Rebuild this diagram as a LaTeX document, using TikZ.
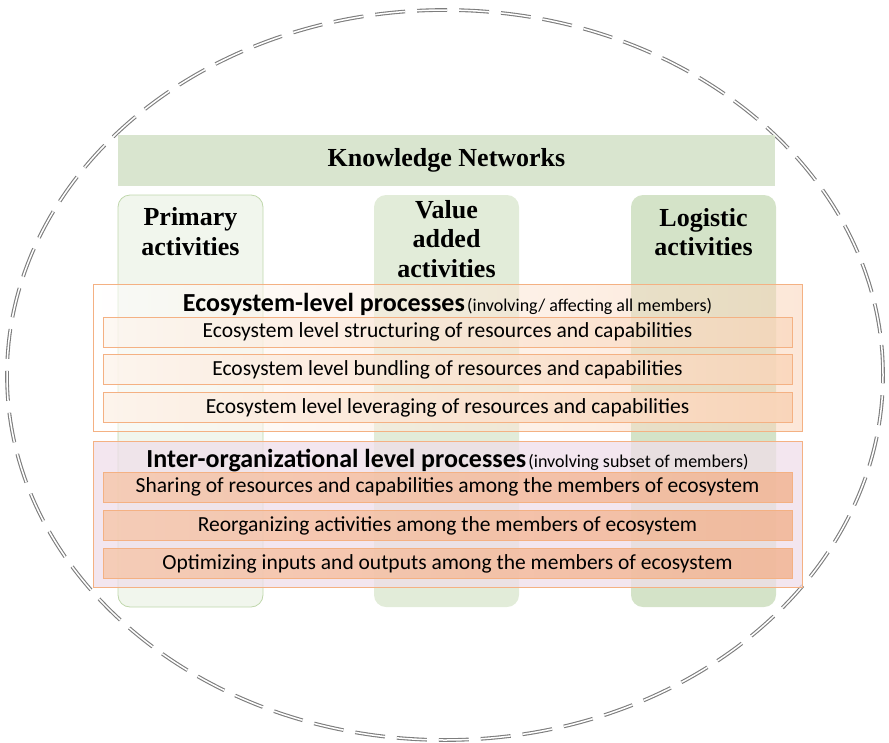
\documentclass[tikz,border=0pt]{standalone}
\usepackage{fontspec}
\setmainfont{Liberation Serif}
\newfontfamily\calibri{Carlito}
\usepackage{tikz}
\usetikzlibrary{positioning,shapes}

\definecolor{kngreen}{RGB}{217,229,207}
\definecolor{primfill}{RGB}{241,246,237}
\definecolor{primdraw}{RGB}{192,215,172}
\definecolor{valfill}{RGB}{226,236,217}
\definecolor{logfill}{RGB}{212,227,200}
\definecolor{procorange}{RGB}{244,177,131}
\definecolor{ecolight}{RGB}{253,244,236}
\definecolor{ecodark}{RGB}{249,212,184}
\definecolor{interfill}{RGB}{239,222,233}
\definecolor{interlight}{RGB}{246,198,170}
\definecolor{interdark}{RGB}{242,178,142}
\definecolor{ringgray}{RGB}{125,125,125}

\newcommand{\headfont}{\fontsize{26}{29.5}\selectfont\bfseries}
\newcommand{\procfont}{\calibri\fontsize{21.5}{24}\selectfont}

\tikzstyle{ring}=[draw=ringgray,line width=1.1pt,double=white,double distance=1.5pt,
dash pattern=on 30pt off 12pt]
\tikzstyle{kbar}=[rectangle,fill=kngreen,minimum width=657pt,minimum height=51pt,
inner sep=0pt,font=\headfont]
\tikzstyle{column}=[rectangle,rounded corners=12pt,minimum width=145pt,
minimum height=412pt,inner sep=0pt]
\tikzstyle{colhead}=[align=center,inner sep=0pt,font=\headfont]
\tikzstyle{group}=[rectangle,draw=procorange,line width=0.8pt,minimum width=709pt,
inner sep=0pt]
\tikzstyle{proc}=[rectangle,draw=procorange,line width=0.8pt,minimum width=689pt,
minimum height=30pt,inner sep=0pt,font=\procfont]
\tikzstyle{grouptitle}=[inner sep=0pt,font=\calibri]

\begin{document}
\begin{tikzpicture}[x=1pt,y=-1pt]
            \useasboundingbox (0,0) rectangle (889,742);

            % dashed boundary of the ecosystem
            \draw[ring] (445,375) ellipse [x radius=438pt, y radius=365pt];

            % KNOWLEDGE NETWORKS AND ACTIVITIES

            \node[kbar] (kn) at (446.5,160.5) {Knowledge Networks};

            \node[column,fill=primfill,draw=primdraw,line width=0.8pt] (pa) at (190.5,401) {};
            \node[column,fill=valfill] (va) at (446.5,401) {};
            \node[column,fill=logfill] (la) at (703.5,401) {};

            \node[colhead,below=13pt of pa.north] (pah) {Primary\\activities};
            \node[colhead,below=5pt of va.north] (vah) {Value\\added\\activities};
            \node[colhead,below=13pt of la.north] (lah) {Logistic\\activities};

            % ECOSYSTEM LEVEL

            \node[group,minimum height=147pt,left color=white,right color=ecodark,
            fill opacity=0.55,draw opacity=1] (eco) at (447.5,357.5) {};
            \node[grouptitle] (ecot) at (447.5,304)
            {{\fontsize{26}{28}\selectfont\bfseries Ecosystem-level processes}
            {\fontsize{18}{20}\selectfont (involving/ affecting all members)}};

            \node[proc,below=33pt of eco.north,left color=ecolight,right color=ecodark,
            fill opacity=0.6,text opacity=1] (e1)
            {Ecosystem level structuring of resources and capabilities};
            \node[proc,below=7pt of e1,left color=ecolight,right color=ecodark,
            fill opacity=0.8,text opacity=1] (e2)
            {Ecosystem level bundling of resources and capabilities};
            \node[proc,below=7pt of e2,left color=ecolight,right color=ecodark,
            fill opacity=0.95,text opacity=1] (e3)
            {Ecosystem level leveraging of resources and capabilities};

            % INTER-ORGANIZATIONAL LEVEL

            \node[group,minimum height=146pt,fill=interfill,fill opacity=0.75,
            draw opacity=1] (inter) at (447.5,514) {};
            \node[grouptitle] (intert) at (447.5,461)
            {{\fontsize{26}{28}\selectfont\bfseries Inter-organizational level processes}
            {\fontsize{18}{20}\selectfont (involving subset of members)}};

            \node[proc,below=31pt of inter.north,left color=interlight,right color=interdark,
            fill opacity=0.8,text opacity=1] (i1)
            {Sharing of resources and capabilities among the members of ecosystem};
            \node[proc,below=8pt of i1,left color=interlight,right color=interdark,
            fill opacity=0.8,text opacity=1] (i2)
            {Reorganizing activities among the members of ecosystem};
            \node[proc,below=7pt of i2,left color=interlight,right color=interdark,
            fill opacity=0.8,text opacity=1] (i3)
            {Optimizing inputs and outputs among the members of ecosystem};

\end{tikzpicture}
\end{document}
